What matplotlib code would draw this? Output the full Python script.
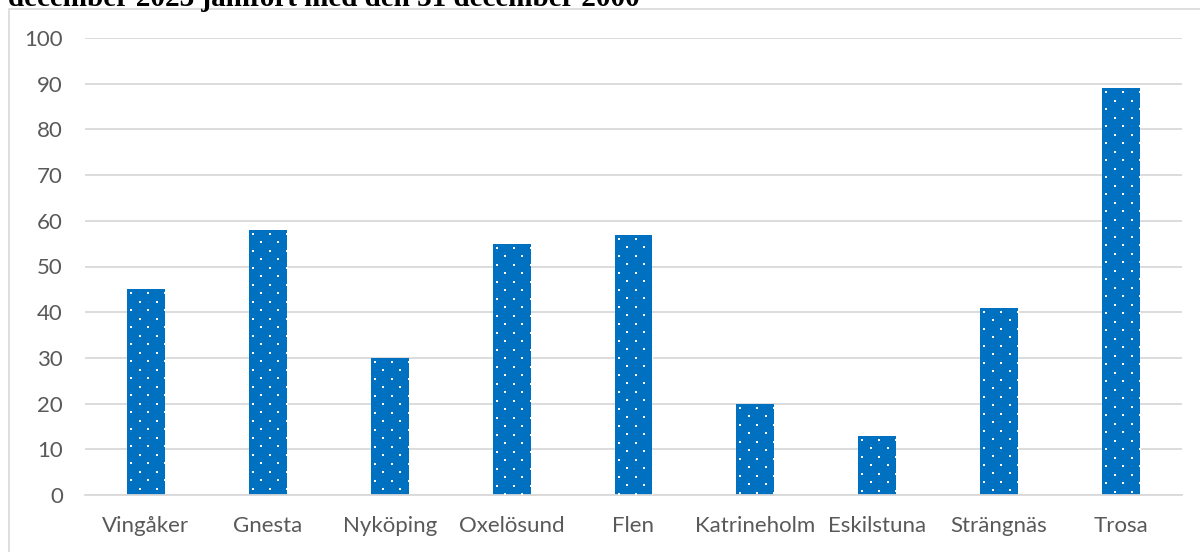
import matplotlib.pyplot as plt
import numpy as np
from matplotlib.patches import Rectangle
from matplotlib.transforms import IdentityTransform

KOMMUNER = ['Vingåker', 'Gnesta', 'Nyköping', 'Oxelösund', 'Flen',
            'Katrineholm', 'Eskilstuna', 'Strängnäs', 'Trosa']
VARDEN = [45, 58, 30, 55, 57, 20, 13, 41, 89]
Y_TICKS = list(range(0, 101, 10))

TITEL = 'december 2023 jämfört med den 31 december 2000'

BLUE = '#0070C0'
GRID = '#D9D9D9'
TEXT = '#595959'

W, H = 1200, 552
fig = plt.figure(figsize=(W / 100, H / 100), dpi=100)
ax = fig.add_axes([85 / W, 1 - 495 / H, (1182 - 85) / W, (495 - 38) / H])

# chart frame (partly outside the picture, like the cropped screenshot)
fig.patches.append(Rectangle((9 / W, -0.1), 1.2, 1 - 9 / H + 0.1,
                             transform=fig.transFigure, fill=False,
                             edgecolor=GRID, linewidth=1.2))

fig.text(8 / W, 1 - 6 / H, TITEL, fontfamily='Liberation Serif', fontweight='bold',
         fontsize=21, ha='left', va='baseline', color='black')

x = np.arange(len(KOMMUNER))
bars = ax.bar(x, VARDEN, width=0.31, color=BLUE, linewidth=0, zorder=2)

ax.set_xlim(-0.5, len(KOMMUNER) - 0.5)
ax.set_ylim(0, 100)
ax.set_yticks(Y_TICKS)
ax.set_xticks(x)
ax.set_xticklabels(KOMMUNER)
ax.yaxis.grid(True, color=GRID, linewidth=1.3, zorder=0)
ax.set_axisbelow(True)
for s in ['top', 'right', 'left']:
    ax.spines[s].set_visible(False)
ax.spines['bottom'].set_color(GRID)
ax.spines['bottom'].set_linewidth(1.3)
ax.tick_params(axis='both', length=0, labelsize=16, labelcolor=TEXT)
ax.tick_params(axis='y', pad=16)
ax.tick_params(axis='x', pad=15)
for lab in ax.get_xticklabels() + ax.get_yticklabels():
    lab.set_fontfamily('Lato')

# white dot texture inside the bars (staggered, 17 px across, 8.5 px down)
fig.canvas.draw()
for b in bars:
    x0, y0 = ax.transData.transform((b.get_x(), 0))
    x1, y1 = ax.transData.transform((b.get_x() + b.get_width(), b.get_height()))
    px, py = [], []
    for i, yy in enumerate(np.arange(y1 - 4, y0, -8.5)):
        off = 0 if i % 2 == 0 else 8.5
        for xx in np.arange(x0 + 4 + off - 17, x1 + 17, 17):
            px.append(xx)
            py.append(yy)
    sc = ax.scatter(px, py, s=2.2, marker='s', color='white', linewidths=0,
                    transform=IdentityTransform(), zorder=3)
    sc.set_clip_path(b)

fig.savefig('out.png', dpi=100)
